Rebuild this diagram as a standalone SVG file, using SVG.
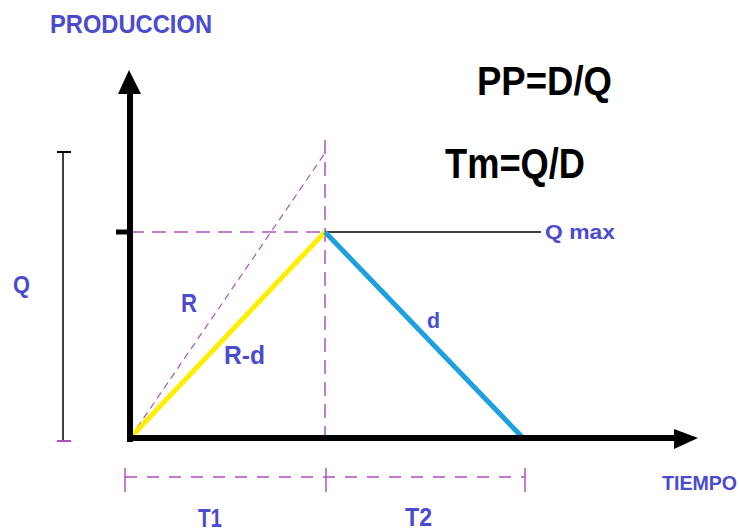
<svg xmlns="http://www.w3.org/2000/svg" width="739" height="531" viewBox="0 0 739 531">
<style>
.lbl{font-family:"Liberation Sans",Arial,sans-serif;font-weight:bold;fill:#4b4bcf}
.big{font-family:"Liberation Sans",Arial,sans-serif;font-weight:bold;fill:#000}
.dash{stroke:#b04fc0;stroke-width:1.5;fill:none;stroke-dasharray:14 8}
.mag{stroke:#b04fc0;stroke-width:1.5;fill:none}
</style>
<rect width="739" height="531" fill="#fff"/>
<g id="connectors">
  <line class="dash" x1="130" y1="438" x2="325" y2="153" style="stroke-dasharray:7 5;stroke-width:1.2"/>
  <line class="dash" x1="325" y1="140" x2="325" y2="445"/>
  <line class="dash" x1="130" y1="232" x2="325" y2="232"/>
  <line x1="325" y1="232" x2="541" y2="232" stroke="#000" stroke-width="1.5"/>
  <line x1="130" y1="438" x2="325" y2="232" stroke="#ffee00" stroke-width="5"/>
  <line x1="325" y1="232" x2="523" y2="438" stroke="#1e9fe0" stroke-width="5"/>
  <line x1="130" y1="442" x2="130" y2="90" stroke="#000" stroke-width="6"/>
  <polygon points="129,70 118,94 141,94" fill="#000"/>
  <line x1="116" y1="232" x2="130" y2="232" stroke="#000" stroke-width="5"/>
  <line x1="127" y1="438" x2="678" y2="438" stroke="#000" stroke-width="6"/>
  <polygon points="698,438 674,429 674,449" fill="#000"/>
  <line x1="63" y1="152" x2="63" y2="441" stroke="#000" stroke-width="1.5"/>
  <line x1="57" y1="152" x2="71" y2="152" stroke="#000" stroke-width="2"/>
  <line x1="57" y1="441" x2="71" y2="441" stroke="#b04fc0" stroke-width="2"/>
  <line class="dash" x1="125" y1="477" x2="525" y2="477" style="stroke-dasharray:12 10"/>
  <line class="mag" x1="125" y1="468" x2="125" y2="492"/>
  <line class="mag" x1="326" y1="468" x2="326" y2="492"/>
  <line class="mag" x1="525" y1="468" x2="525" y2="492"/>
</g>
<g id="title"><text class="lbl" x="50" y="33" font-size="26" textLength="162" lengthAdjust="spacingAndGlyphs">PRODUCCION</text></g>
<g id="pp"><text class="big" x="477" y="95" font-size="41" textLength="135" lengthAdjust="spacingAndGlyphs">PP=D/Q</text></g>
<g id="tm"><text class="big" x="445" y="178" font-size="42" textLength="140" lengthAdjust="spacingAndGlyphs">Tm=Q/D</text></g>
<g id="qmax"><text class="lbl" x="545" y="239" font-size="21" textLength="70" lengthAdjust="spacingAndGlyphs">Q max</text></g>
<g id="q"><text class="lbl" x="13" y="293" font-size="24" textLength="17" lengthAdjust="spacingAndGlyphs">Q</text></g>
<g id="r"><text class="lbl" x="181" y="312" font-size="25" textLength="16" lengthAdjust="spacingAndGlyphs">R</text></g>
<g id="rd"><text class="lbl" x="224" y="364" font-size="25" textLength="41" lengthAdjust="spacingAndGlyphs">R-d</text></g>
<g id="d"><text class="lbl" x="427" y="328" font-size="22" textLength="13" lengthAdjust="spacingAndGlyphs">d</text></g>
<g id="t1"><text class="lbl" x="198" y="527" font-size="25" textLength="24" lengthAdjust="spacingAndGlyphs">T1</text></g>
<g id="t2"><text class="lbl" x="405" y="526" font-size="25" textLength="27" lengthAdjust="spacingAndGlyphs">T2</text></g>
<g id="tiempo"><text class="lbl" x="662" y="490" font-size="20" textLength="75" lengthAdjust="spacingAndGlyphs">TIEMPO</text></g>
</svg>
